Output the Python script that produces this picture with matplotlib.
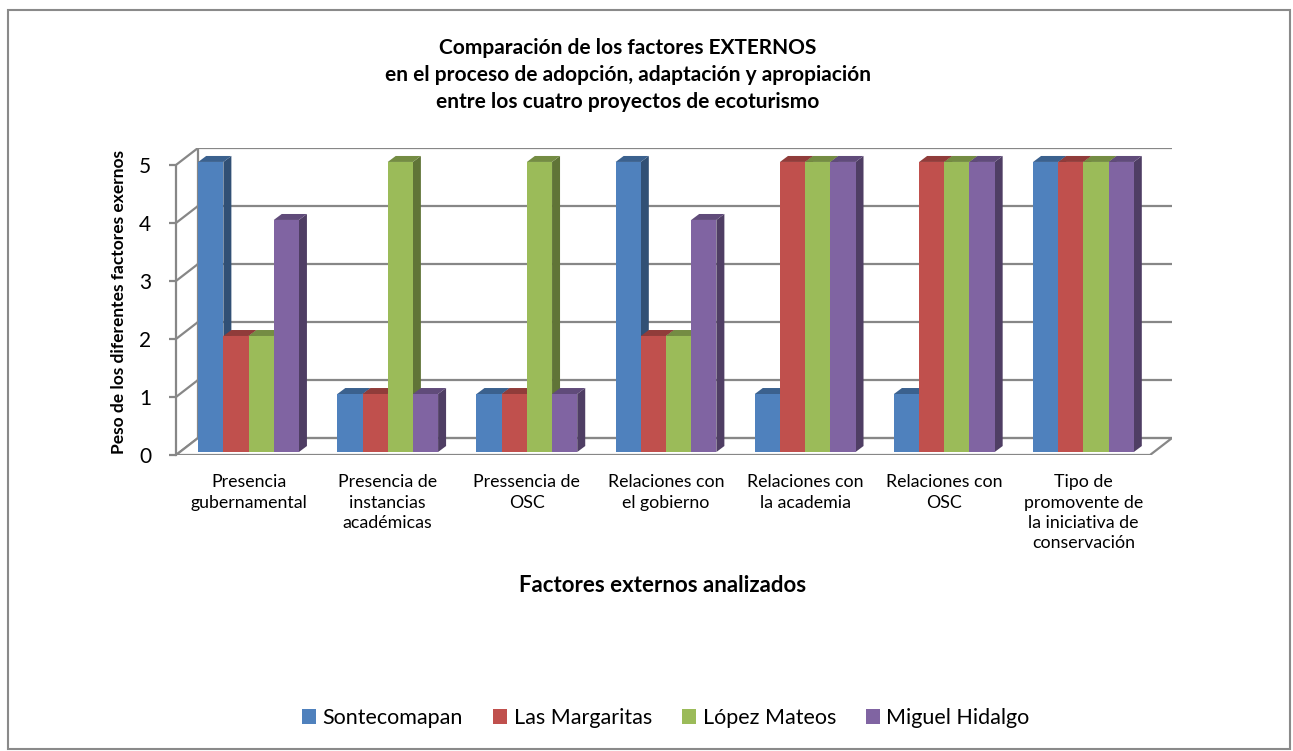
import matplotlib.pyplot as plt
from matplotlib.patches import Polygon, Patch, Rectangle
from matplotlib.colors import to_rgb

plt.rcParams['font.family'] = ['Lato', 'DejaVu Sans']

categories = [
    "Presencia\ngubernamental",
    "Presencia de\ninstancias\nacadémicas",
    "Pressencia de\nOSC",
    "Relaciones con\nel gobierno",
    "Relaciones con\nla academia",
    "Relaciones con\nOSC",
    "Tipo de\npromovente de\nla iniciativa de\nconservación",
]
series_names = ["Sontecomapan", "Las Margaritas", "López Mateos", "Miguel Hidalgo"]
sontecomapan = [5, 1, 1, 5, 1, 1, 5]
las_margaritas = [2, 1, 1, 2, 5, 5, 5]
lopez_mateos = [2, 5, 5, 2, 5, 5, 5]
miguel_hidalgo = [4, 1, 1, 4, 5, 5, 5]
series_values = [sontecomapan, las_margaritas, lopez_mateos, miguel_hidalgo]
colors = ["#4F81BD", "#C0504D", "#9BBB59", "#8064A2"]

W, H = 1293, 751
fig = plt.figure(figsize=(W / 100, H / 100), dpi=100)

# pixel layout of the plot box (front-left axis to back-right wall)
left_px, right_px, bottom_px, top_px = 176, 1172, 455, 148
ax = fig.add_axes([left_px / W, 1 - bottom_px / H,
                   (right_px - left_px) / W, (bottom_px - top_px) / H])

n = len(categories)
ddx, ddy = 22 / 139.3, 17 / 58.2      # wall depth in data units
bdx, bdy = 8 / 139.3, 6 / 58.2        # bar depth
fx, fy = 3 / 139.3, 3 / 58.2          # bars sit slightly behind the front edge
bw = 0.181
ax.set_xlim(-0.5, n - 0.5 + ddx)
ax.set_ylim(0, 5 + ddy)

grid_c = "#878787"
gl = 1.6
# back wall gridlines and left wall
for v in range(6):
    ax.plot([-0.5 + ddx, n - 0.5 + ddx], [v + ddy, v + ddy], color=grid_c, lw=gl, zorder=1)
    ax.plot([-0.5, -0.5 + ddx], [v, v + ddy], color=grid_c, lw=gl, zorder=1)
ax.plot([-0.5 + ddx, -0.5 + ddx], [ddy, 5 + ddy], color=grid_c, lw=gl, zorder=1)
# floor
ax.add_patch(Polygon([(-0.5, 0), (n - 0.5, 0), (n - 0.5 + ddx, ddy), (-0.5 + ddx, ddy)],
                     closed=True, facecolor="white", edgecolor=grid_c, lw=gl, zorder=1.5))


def shade(c, f):
    r, g, b = to_rgb(c)
    return (r * f, g * f, b * f)


z = 2
for i in range(n):
    for j, vals in enumerate(series_values):
        v = vals[i]
        x0 = i + (j - 2) * bw + fx
        x1 = x0 + bw
        c = colors[j]
        ax.add_patch(Polygon([(x1, fy), (x1 + bdx, fy + bdy), (x1 + bdx, v + fy + bdy), (x1, v + fy)],
                             closed=True, facecolor=shade(c, 0.62), edgecolor="none", zorder=z))
        ax.add_patch(Polygon([(x0, v + fy), (x1, v + fy), (x1 + bdx, v + fy + bdy), (x0 + bdx, v + fy + bdy)],
                             closed=True, facecolor=shade(c, 0.75), edgecolor="none", zorder=z))
        ax.bar(x0, v, width=bw, bottom=fy, align="edge", color=c, edgecolor="none", zorder=z + 0.5)
        z += 1

for s in ["top", "right", "bottom"]:
    ax.spines[s].set_visible(False)
ax.spines["left"].set_bounds(0, 5)
ax.spines["left"].set_color(grid_c)
ax.spines["left"].set_linewidth(gl)
ax.set_yticks(range(6))
ax.set_yticklabels([str(v) for v in range(6)], fontsize=15)
ax.tick_params(axis="y", length=5, width=gl, color=grid_c, pad=13)
ax.set_xticks([i + fx for i in range(n)])
ax.set_xticklabels(categories, fontsize=12.8, linespacing=1.32, va="top")
ax.tick_params(axis="x", length=0, pad=14)

fig.text(628 / W, 1 - 75 / H,
         "Comparación de los factores EXTERNOS\nen el proceso de adopción, adaptación y apropiación\nentre los cuatro proyectos de ecoturismo",
         ha="center", va="center", fontsize=15, fontweight="bold", linespacing=1.45)
fig.text(119 / W, 1 - 302 / H, "Peso de los diferentes factores exernos",
         rotation=90, ha="center", va="center", fontsize=12.5, fontweight="bold")
fig.text(663 / W, 1 - 585 / H, "Factores externos analizados",
         ha="center", va="center", fontsize=16, fontweight="bold")

handles = [Patch(facecolor=c, edgecolor="none") for c in colors]
fig.legend(handles, series_names, loc="center", bbox_to_anchor=(666 / W, 1 - 718 / H),
           ncol=4, frameon=False, fontsize=15.5, handlelength=0.65, handleheight=0.65,
           handletextpad=0.3, columnspacing=1.4)

fig.patches.append(Rectangle((8 / W, 1 - 749 / H), (1290 - 8) / W, (749 - 10) / H,
                             transform=fig.transFigure, fill=False, edgecolor="#8a8a8a", lw=1.5))

fig.savefig("out.png", dpi=100)
